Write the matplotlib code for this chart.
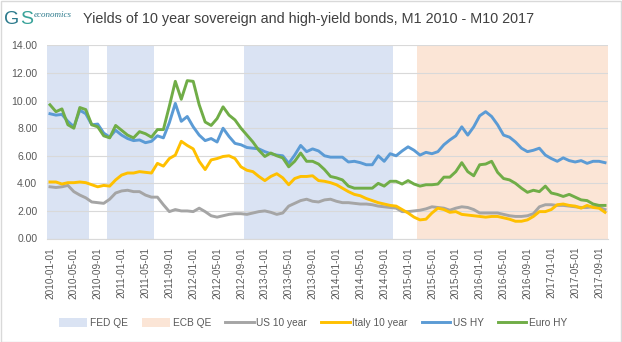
import matplotlib
matplotlib.use("Agg")
import matplotlib.pyplot as plt
import numpy as np
import pandas as pd
from matplotlib.patches import Patch, Rectangle
from matplotlib.lines import Line2D

plt.rcParams["font.family"] = ["Liberation Sans", "DejaVu Sans"]

MONTHS = pd.date_range("2010-01-01", "2017-10-01", freq="MS")

FED_QE = [("2010-01-01", "2010-07-01"), ("2010-11-01", "2011-06-01"), ("2012-10-01", "2014-10-01")]
ECB_QE = [("2015-03-01", "2017-10-01")]

US_10Y = [3.75, 3.7, 3.75, 3.85, 3.4, 3.15, 2.95, 2.65, 2.6, 2.55, 2.85, 3.3,
          3.45, 3.5, 3.4, 3.4, 3.15, 3.0, 3.0, 2.45, 1.95, 2.1, 2.0, 2.0,
          1.95, 2.2, 1.95, 1.65, 1.55, 1.65, 1.75, 1.8, 1.8, 1.75, 1.85, 1.95,
          2.0, 1.9, 1.75, 1.85, 2.35, 2.55, 2.75, 2.85, 2.7, 2.65, 2.8, 2.85,
          2.7, 2.6, 2.6, 2.55, 2.5, 2.5, 2.45, 2.35, 2.3, 2.25, 2.2, 1.95,
          1.95, 2.0, 2.05, 2.15, 2.3, 2.25, 2.2, 2.05, 2.2, 2.3, 2.25, 2.1,
          1.85, 1.85, 1.85, 1.85, 1.75, 1.65, 1.6, 1.6, 1.65, 1.8, 2.3, 2.45,
          2.45, 2.4, 2.4, 2.35, 2.3, 2.25, 2.25, 2.3, 2.25, 2.1]

ITALY_10Y = [4.1, 4.1, 3.95, 4.05, 4.05, 4.1, 4.05, 3.9, 3.75, 3.85, 3.8, 4.25,
             4.6, 4.75, 4.75, 4.85, 4.8, 4.75, 5.45, 5.25, 5.8, 6.05, 7.05, 6.75,
             6.5, 5.6, 5.0, 5.7, 5.8, 5.95, 6.0, 5.8, 5.2, 4.95, 4.85, 4.5,
             4.2, 4.5, 4.7, 4.4, 3.9, 4.35, 4.5, 4.5, 4.55, 4.2, 4.15, 4.05,
             3.9, 3.65, 3.4, 3.2, 3.1, 2.9, 2.75, 2.6, 2.5, 2.4, 2.35, 2.1,
             1.85, 1.55, 1.35, 1.4, 1.85, 2.2, 2.1, 1.9, 1.95, 1.75, 1.7, 1.65,
             1.6, 1.55, 1.6, 1.6, 1.5, 1.4, 1.25, 1.25, 1.35, 1.6, 1.95, 1.95,
             2.1, 2.45, 2.5, 2.4, 2.35, 2.2, 2.4, 2.25, 2.2, 1.9]

US_HY = [9.05, 8.95, 9.0, 8.5, 8.1, 9.3, 9.05, 8.25, 8.3, 7.65, 7.35, 7.85,
         7.5, 7.25, 7.1, 7.15, 6.95, 7.05, 7.45, 7.3, 8.4, 9.8, 8.5, 8.85,
         8.1, 7.5, 7.1, 7.25, 7.0, 8.0, 7.4, 6.9, 6.8, 6.6, 6.55, 6.5,
         6.3, 6.15, 6.05, 6.0, 5.45, 6.05, 6.75, 6.3, 6.5, 6.35, 6.0, 5.9,
         5.9, 5.9, 5.55, 5.6, 5.5, 5.35, 5.35, 6.0, 5.6, 6.15, 6.0, 6.35,
         6.65, 6.4, 6.05, 6.25, 6.15, 6.3, 6.8, 7.15, 7.45, 8.1, 7.5, 8.1,
         8.9, 9.2, 8.85, 8.25, 7.5, 7.35, 7.0, 6.55, 6.3, 6.4, 6.55, 6.05,
         5.8, 5.6, 5.85, 5.65, 5.55, 5.65, 5.45, 5.6, 5.6, 5.5]

EURO_HY = [9.7, 9.2, 9.4, 8.25, 8.0, 9.5, 9.35, 8.25, 8.1, 7.45, 7.3, 8.2,
           7.85, 7.5, 7.3, 7.75, 7.6, 7.35, 7.9, 7.9, 9.6, 11.4, 10.1, 11.45,
           11.4, 9.7, 8.45, 8.2, 8.7, 9.55, 8.95, 8.6, 8.0, 7.5, 7.0, 6.4,
           5.95, 6.2, 6.0, 5.85, 5.2, 5.6, 6.2, 5.6, 5.6, 5.4, 5.0, 4.5,
           4.4, 4.25, 3.8, 3.65, 3.65, 3.65, 3.65, 4.0, 3.8, 4.15, 4.15, 3.95,
           4.2, 3.95, 3.8, 3.9, 3.9, 3.95, 4.45, 4.45, 4.85, 5.5, 4.85, 4.55,
           5.35, 5.4, 5.6, 4.8, 4.35, 4.25, 4.0, 3.65, 3.35, 3.5, 3.4, 3.8,
           3.3, 3.2, 3.05, 3.2, 3.0, 2.8, 2.75, 2.5, 2.4, 2.4]

Y_MAX = 14.0
FED_COLOR = "#DAE3F3"
ECB_COLOR = "#FBE5D6"
LINES = [
    ("US 10 year", US_10Y, "#A5A5A5"),
    ("Italy 10 year", ITALY_10Y, "#FFC000"),
    ("US HY", US_HY, "#5B9BD5"),
    ("Euro HY", EURO_HY, "#70AD47"),
]
TEXT = "#595959"


def period_mask(periods):
    mask = np.zeros(len(MONTHS), dtype=bool)
    for start, end in periods:
        mask |= (MONTHS >= start) & (MONTHS <= end)
    return mask


fig = plt.figure(figsize=(6.22, 3.42), dpi=100, facecolor="white")
W, H = 622, 342
ax = fig.add_axes([47 / W, 1 - 238.5 / H, (608 - 47) / W, (238.5 - 45.5) / H])

x = np.arange(len(MONTHS))
fed = period_mask(FED_QE)
ecb = period_mask(ECB_QE)
ax.bar(x[fed], np.full(fed.sum(), Y_MAX), width=1.0, color=FED_COLOR, linewidth=0, zorder=1)
ax.bar(x[ecb], np.full(ecb.sum(), Y_MAX), width=1.0, color=ECB_COLOR, linewidth=0, zorder=1)

for name, values, color in LINES:
    ax.plot(x, values, color=color, lw=2.1, solid_joinstyle="round", zorder=3)

ax.set_xlim(-0.5, len(MONTHS) - 0.5)
ax.set_ylim(0, Y_MAX)
ax.set_yticks(np.arange(0, 15, 2))
ax.set_yticklabels([f"{v:.2f}" for v in np.arange(0, 15, 2)], fontsize=7.5, color=TEXT)
ax.yaxis.grid(True, color="#D9D9D9", lw=0.8, zorder=2)
ax.set_axisbelow(False)
tick_idx = x[::4]
ax.set_xticks(tick_idx)
ax.set_xticklabels([MONTHS[i].strftime("%Y-%m-%d") for i in tick_idx],
                   rotation=90, fontsize=7.2, color=TEXT)
ax.tick_params(axis="both", length=0)
ax.tick_params(axis="x", pad=6)
ax.tick_params(axis="y", pad=7)
for side in ["top", "right", "left"]:
    ax.spines[side].set_visible(False)
ax.spines["bottom"].set_color("#D9D9D9")
ax.set_facecolor("white")

# logo + title
fig.text(4 / W, 1 - 19 / H, "G", fontsize=14, color="#2C7A8C", va="center")
fig.text(20 / W, 1 - 20 / H, "S", fontsize=14, color="#3AA39A", va="center")
fig.text(34 / W, 1 - 15 / H, "economics", fontsize=6.5, color="#2C7A8C", style="italic",
         family=["Liberation Serif", "DejaVu Serif"], va="center")
fig.text(83 / W, 1 - 19 / H, "Yields of 10 year sovereign and high-yield bonds, M1 2010 - M10 2017",
         fontsize=10.4, color="#404040", va="center")

handles = [Patch(facecolor=FED_COLOR, edgecolor="none", label="FED QE"),
           Patch(facecolor=ECB_COLOR, edgecolor="none", label="ECB QE")]
handles += [Line2D([0], [0], color=c, lw=2.1, label=n) for n, _, c in LINES]
fig.legend(handles=handles, loc="center", bbox_to_anchor=(313 / W, 1 - 323 / H), ncol=6,
           frameon=False, fontsize=7.3, labelcolor=TEXT, handlelength=2.8, handleheight=1.0,
           handletextpad=0.25, columnspacing=1.4)

fig.add_artist(Rectangle((0.5 / W, 0.5 / H), 1 - 1.5 / W, 1 - 1.5 / H, transform=fig.transFigure,
                         fill=False, edgecolor="#D9D9D9", lw=1))

fig.savefig("out.png", dpi=100, facecolor="white")
